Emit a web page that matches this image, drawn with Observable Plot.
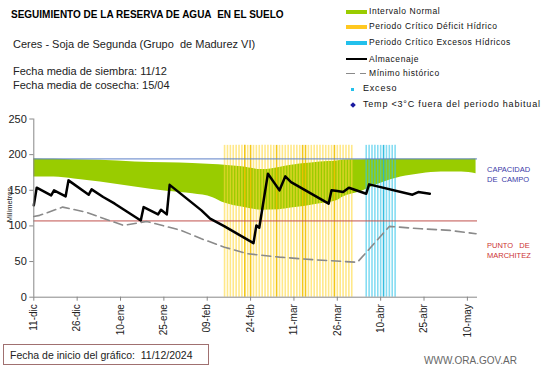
<!DOCTYPE html>
<html>
<head>
<meta charset="utf-8">
<script src="https://cdn.jsdelivr.net/npm/d3@7"></script>
<script src="https://cdn.jsdelivr.net/npm/@observablehq/plot@0.6"></script>
<style>
  html, body { margin:0; padding:0; background:#fff; }
  #wrap { position:relative; width:541px; height:368px; overflow:hidden; font-family:"Liberation Sans", Arial, sans-serif; color:#000; }
  #wrap svg { position:absolute; left:0; top:0; }
  .abs { position:absolute; white-space:nowrap; line-height:1; }
  .leg { color:#111; }
  [aria-label="y-axis tick"], [aria-label="x-axis tick"] { stroke:#888; }
</style>
</head>
<body>
<div id="wrap">
  <div class="abs" style="left:11px;top:10px;font-size:10px;font-weight:bold;">SEGUIMIENTO DE LA RESERVA DE AGUA&nbsp; EN EL SUELO</div>
  <div class="abs" style="left:13px;top:39px;font-size:11px;color:#222;">Ceres - Soja de Segunda (Grupo&nbsp; de Madurez VI)</div>
  <div class="abs" style="left:13px;top:66px;font-size:11px;color:#222;">Fecha media de siembra: 11/12</div>
  <div class="abs" style="left:13px;top:80px;font-size:11px;color:#222;">Fecha media de cosecha: 15/04</div>

  <div id="legend"></div>

  <div class="abs" style="left:487px;top:165px;font-size:7.5px;color:#3a3aa8;line-height:10px;">CAPACIDAD<br>DE&nbsp; CAMPO</div>
  <div class="abs" style="left:487px;top:241px;font-size:7.5px;color:#cc3333;line-height:10px;">PUNTO&nbsp;&nbsp; DE<br>MARCHITEZ</div>

  <div class="abs" style="left:10px;top:205px;font-size:7.5px;color:#222;transform:translate(-50%,-50%) rotate(-90deg);">Milímetros</div>

  <div class="abs" style="left:3px;top:344px;width:206px;height:21px;border:1px solid #a07070;box-sizing:border-box;"></div>
  <div class="abs" style="left:10px;top:350px;font-size:10.5px;color:#222;">Fecha de inicio del gráfico:&nbsp; 11/12/2024</div>
  <div class="abs" style="left:424px;top:356px;font-size:10px;color:#666;">WWW.ORA.GOV.AR</div>
</div>
<script>
// ---------- DATA ----------
const startDate = "2024-12-11";
const endDate = "2025-05-13T12:00Z";

const tickDates = ["2024-12-11","2024-12-26","2025-01-10","2025-01-25","2025-02-09","2025-02-24",
                   "2025-03-11","2025-03-26","2025-04-10","2025-04-25","2025-05-10"];
const monthAbbr = ["ene","feb","mar","abr","may","jun","jul","ago","sep","oct","nov","dic"];
const yTicks = [0, 50, 100, 150, 200, 250];

const capacidadCampo = 194;
const puntoMarchitez = 107;

// Intervalo normal (band)
const bandDates = ["2024-12-11","2024-12-18","2024-12-25","2025-01-03","2025-01-15","2025-01-26","2025-02-04",
  "2025-02-11","2025-02-15","2025-02-21","2025-02-28","2025-03-06","2025-03-10","2025-03-13","2025-03-17",
  "2025-03-20","2025-03-26","2025-03-28","2025-04-03","2025-04-10","2025-04-17","2025-04-24","2025-05-01",
  "2025-05-08","2025-05-13"];
const bandHigh = [194,193.5,193,192,189.6,188.5,187.4,186,185,183,179,182,185,187,188.2,189.5,191,192.5,193,193.3,193.4,193.4,193.4,193.4,194];
const bandLow  = [168.6,168.6,166,161.5,154.5,148.5,145,139.6,132,126.4,122,122.7,125,126.4,129,131,135.8,140.6,148,160,168.6,173.3,175.6,175.6,173.3];

// Almacenaje
const almDates = ["2024-12-11","2024-12-12","2024-12-17","2024-12-18","2024-12-22","2024-12-23","2024-12-30",
  "2024-12-31","2025-01-04","2025-01-08","2025-01-17","2025-01-18","2025-01-23","2025-01-24","2025-01-26",
  "2025-01-27","2025-02-07","2025-02-10","2025-02-15","2025-02-25","2025-02-26","2025-02-27","2025-03-02",
  "2025-03-06","2025-03-08","2025-03-10","2025-03-23","2025-03-24","2025-03-26","2025-03-28","2025-03-30",
  "2025-04-05","2025-04-06","2025-04-21","2025-04-23","2025-04-27"];
const almValues = [128.8,153.6,142.8,149.9,141.4,163.9,143.8,151.3,140.6,131.2,107.7,126.4,116.2,122.7,116.2,
  157.6,121.8,110.2,99.3,75.8,100.7,97.5,173.3,149.9,169.5,161.5,131.2,149.9,148.9,147.5,153.6,
  145.2,158.3,143.8,147.5,145.2];

// Mínimo histórico
const minDates = ["2024-12-11","2024-12-13","2024-12-21","2024-12-29","2025-01-11","2025-01-19","2025-01-31",
  "2025-02-07","2025-02-15","2025-02-23","2025-03-06","2025-03-18","2025-04-01","2025-04-02","2025-04-13",
  "2025-04-24","2025-05-04","2025-05-13"];
const minValues = [113.3,114.8,126.4,119.4,100.7,106.3,93.7,82,70.2,60.9,56.2,52.5,49.2,49.2,99.3,96,93.7,89];

// Periodo crítico (daily stripes); strong = darker stripe days
const deficitStart = "2025-02-15", deficitEnd = "2025-03-31";
const deficitStrong = ["2025-02-22","2025-02-24","2025-03-05","2025-03-14","2025-03-15","2025-03-25"];
const excesoStart = "2025-04-05", excesoEnd = "2025-04-15";
const excesoStrong = ["2025-04-11"];
const criticalTop = 213;

// ---------- BUILD ----------
const P = s => new Date(s.length === 10 ? s + "T00:00Z" : s);
const band = bandDates.map((d,i) => ({date:P(d), hi:bandHigh[i], lo:bandLow[i]}));
const alm = almDates.map((d,i) => ({date:P(d), v:almValues[i]}));
const mins = minDates.map((d,i) => ({date:P(d), v:minValues[i]}));
const days = (a,b) => d3.utcDay.range(P(a), d3.utcDay.offset(P(b),1));
const iso = d3.utcFormat("%Y-%m-%d");
const defDays = days(deficitStart, deficitEnd).map(d => ({date:d, strong: deficitStrong.includes(iso(d))}));
const excDays = days(excesoStart, excesoEnd).map(d => ({date:d, strong: excesoStrong.includes(iso(d))}));
const fmt = d => d3.utcFormat("%d")(d) + "-" + monthAbbr[d.getUTCMonth()];

const chart = Plot.plot({
  width: 541, height: 368,
  marginLeft: 33.3, marginRight: 64, marginTop: 118.5, marginBottom: 71.3,
  style: {fontFamily: "Liberation Sans, Arial, sans-serif", background: "transparent", color:"#222"},
  x: {type: "utc", domain: [P(startDate), P(endDate)]},
  y: {domain: [0, 250]},
  marks: [
    Plot.areaY(band, {x:"date", y1:"lo", y2:"hi", fill:"#99cc00", curve:"monotone-x"}),
    Plot.ruleX(defDays, {x:"date", y1:0, y2:criticalTop, stroke: d => d.strong ? "#f2c100" : "#ffd83a", strokeOpacity: d => d.strong ? 0.9 : 0.6, strokeWidth:1.6}),
    Plot.ruleX(excDays, {x:"date", y1:0, y2:criticalTop, stroke: d => d.strong ? "#1fb6dc" : "#33c4ea", strokeOpacity: d => d.strong ? 0.9 : 0.6, strokeWidth:1.6}),
    Plot.ruleY([capacidadCampo], {stroke:"#5b7fc7", strokeWidth:1}),
    Plot.ruleY([puntoMarchitez], {stroke:"#c0504d", strokeWidth:1}),
    Plot.lineY(mins, {x:"date", y:"v", stroke:"#8a8a8a", strokeWidth:1.6, strokeDasharray:"9,5"}),
    Plot.lineY(alm, {x:"date", y:"v", stroke:"#000", strokeWidth:2.5}),
    Plot.ruleY([0], {stroke:"#888"}),
    Plot.ruleX([P(startDate)], {y1:0, y2:250, stroke:"#888"}),
    Plot.axisY({ticks: yTicks, tickSize:4, tickPadding:3, fontSize:11, label:null}),
    Plot.axisX({ticks: tickDates.map(P), tickFormat: fmt, tickRotate:-90, tickSize:4, tickPadding:3, fontSize:10, label:null})
  ]
});
document.getElementById("wrap").prepend(chart);

// Legend
const legend = document.getElementById("legend");
const items = [
  {y:11.7, kind:"sw", color:"#99cc00", text:"Intervalo Normal"},
  {y:26.7, kind:"sw", color:"#ffc820", text:"Periodo Crítico Déficit Hídrico"},
  {y:42.7, kind:"sw", color:"#22c0ec", text:"Periodo Crítico Excesos Hídricos"},
  {y:59.3, kind:"line", color:"#000", text:"Almacenaje"},
  {y:73.3, kind:"dash", color:"#8a8a8a", text:"Mínimo histórico"},
  {y:89.3, kind:"dot", color:"#22c0ec", text:"Exceso"},
  {y:105, kind:"diamond", color:"#1a1aa0", text:"Temp <3°C fuera del periodo habitual"}
];
const addBox = css => { const s = document.createElement("div"); s.className = "abs"; s.style.cssText = css; legend.appendChild(s); };
for (const it of items) {
  if (it.kind === "sw") addBox(`left:346px;top:${it.y-2}px;width:21px;height:4px;background:${it.color}`);
  else if (it.kind === "line") addBox(`left:346px;top:${it.y-1}px;width:21px;height:2px;background:${it.color}`);
  else if (it.kind === "dash") {
    addBox(`left:346px;top:${it.y-0.75}px;width:9px;height:1.5px;background:${it.color}`);
    addBox(`left:360px;top:${it.y-0.75}px;width:6px;height:1.5px;background:${it.color}`);
  }
  else if (it.kind === "dot") addBox(`left:351px;top:${it.y-1.5}px;width:3px;height:3px;background:${it.color}`);
  else addBox(`left:350.5px;top:${it.y-2.5}px;width:4px;height:4px;background:${it.color};transform:rotate(45deg)`);
  const t = document.createElement("div");
  t.className = "abs leg";
  const big = it.kind === "dot" || it.kind === "diamond";
  const lx = big ? 363 : 369;
  t.style.cssText = `left:${lx}px;top:${it.y - (big?5:4.5)}px;font-size:${big?9:8.5}px;letter-spacing:${big?0.8:0.55}px;`;
  t.textContent = it.text;
  legend.appendChild(t);
}
</script>
</body>
</html>
